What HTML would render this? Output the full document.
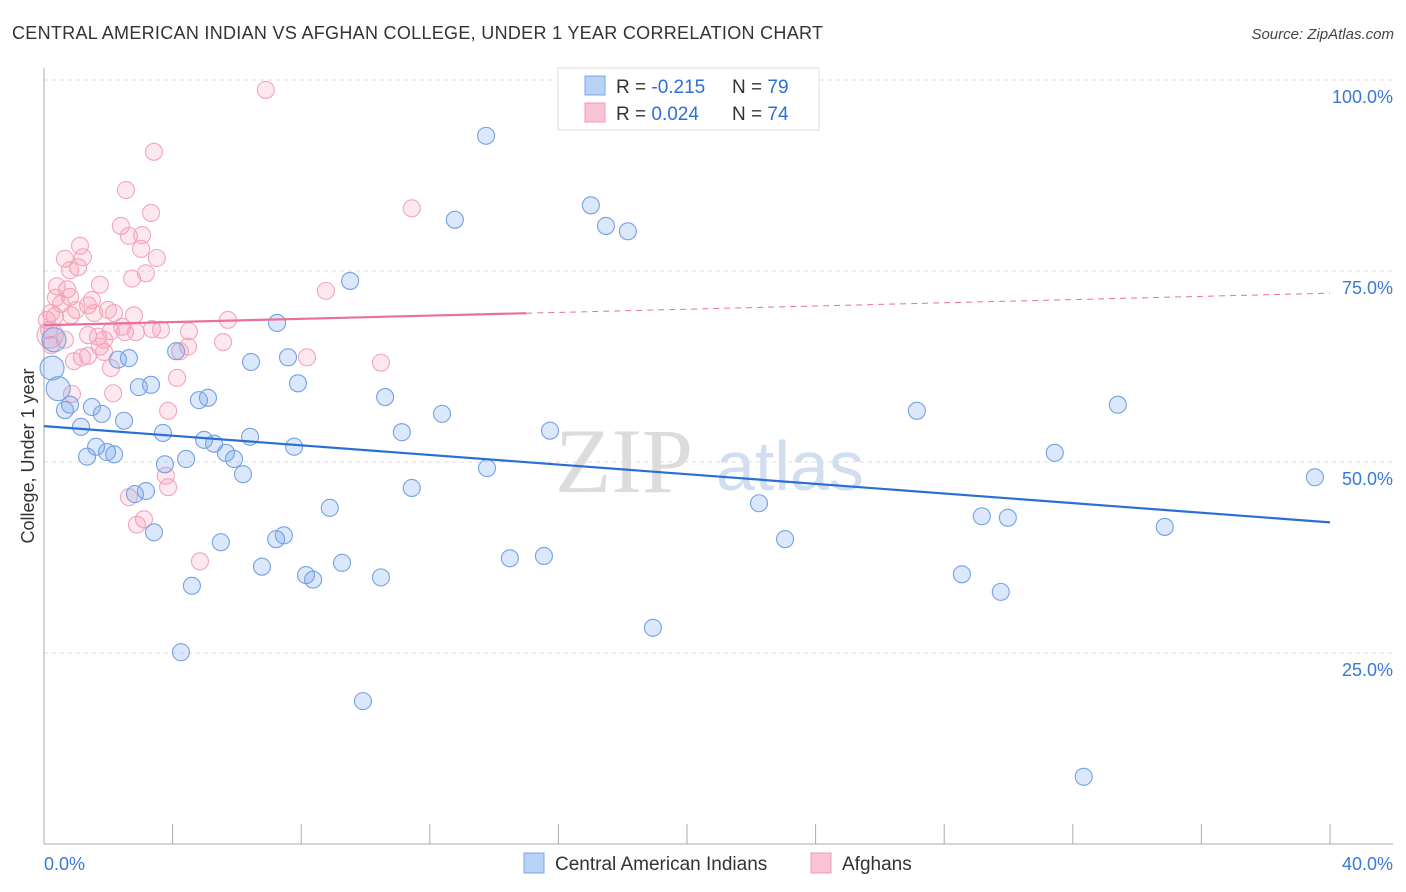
<!DOCTYPE html>
<html><head><meta charset="utf-8"><style>
body{margin:0;background:#fff;font-family:"Liberation Sans",sans-serif;}
#wrap{position:relative;width:1406px;height:892px;overflow:hidden;}
</style></head><body>
<div id="wrap">
<svg id="svg" width="1406" height="892" xmlns="http://www.w3.org/2000/svg">
<text x="12" y="39" font-size="18" fill="#333" textLength="811">CENTRAL AMERICAN INDIAN VS AFGHAN COLLEGE, UNDER 1 YEAR CORRELATION CHART</text>
<text x="1394" y="39" font-size="15" fill="#444" font-style="italic" text-anchor="end">Source: ZipAtlas.com</text>
<text x="34" y="456" font-size="18" fill="#333" text-anchor="middle" transform="rotate(-90 34 456)">College, Under 1 year</text>
<text x="555" y="492" font-size="92" fill="#dcdcdc" font-family="Liberation Serif,serif">ZIP</text>
<text x="716" y="490" font-size="70" fill="#d0def0">atlas</text>
<g id="grid"></g><g id="pts"></g><g id="lines"></g>
<g>
<rect x="558" y="68" width="261" height="62" fill="#fff" stroke="#ddd"/>
<rect x="585" y="76" width="20" height="19" fill="#b8d2f5" stroke="#7aa7e6"/>
<rect x="585" y="103" width="20" height="19" fill="#f9c4d4" stroke="#f09ab2"/>
<text x="616" y="93" font-size="19" fill="#333">R = <tspan fill="#2e6fd6">-0.215</tspan></text>
<text x="732" y="93" font-size="19" fill="#333">N = <tspan fill="#2e6fd6">79</tspan></text>
<text x="616" y="120" font-size="19" fill="#333">R = <tspan fill="#2e6fd6"> 0.024</tspan></text>
<text x="732" y="120" font-size="19" fill="#333">N = <tspan fill="#2e6fd6">74</tspan></text>
</g>
<g>
<rect x="524" y="853" width="20" height="20" fill="#b8d2f5" stroke="#7aa7e6"/>
<text x="555" y="870" font-size="19" fill="#333">Central American Indians</text>
<rect x="811" y="853" width="20" height="20" fill="#f9c4d4" stroke="#f09ab2"/>
<text x="842" y="870" font-size="19" fill="#333">Afghans</text>
</g>
</svg></div>
<script>
const xTicks=[0,40];
const yTicks=[25,50,75,100];
const blueX=[13.75,12.78,17.01,17.48,18.16,9.52,7.25,7.59,4.11,2.64,2.30,6.44,3.33,2.95,7.90,5.10,4.82,10.61,1.49,0.81,0.65,1.80,2.49,12.38,11.13,3.70,1.15,15.74,27.15,33.40,6.41,4.98,5.29,5.66,5.91,1.62,1.96,2.18,1.34,4.42,3.76,7.78,13.78,6.19,31.44,39.53,11.44,3.17,2.83,8.89,22.24,29.17,29.98,34.86,3.42,7.46,7.22,5.50,23.05,14.49,15.55,9.27,6.78,8.15,8.37,10.48,28.55,4.60,29.76,18.94,4.26,9.92,32.34];
const blueY=[92.7,81.7,83.6,80.9,80.2,73.7,68.2,63.7,64.5,63.6,63.4,63.1,60.1,59.8,60.3,58.4,58.1,58.5,57.2,57.5,56.8,56.3,55.4,56.3,53.9,53.8,54.6,54.1,56.7,57.5,53.3,52.9,52.4,51.2,50.4,52.0,51.3,51.0,50.7,50.4,49.7,52.0,49.2,48.4,51.2,48.0,46.6,46.2,45.8,44.0,44.6,42.9,42.7,41.5,40.8,40.4,39.9,39.5,39.9,37.4,37.7,36.8,36.3,35.2,34.6,34.9,35.3,33.8,33.0,28.3,25.1,18.7,8.8];
const blueBigX=[0.31,0.25,0.44];
const blueBigY=[66.0,62.3,59.6];
const pinkX=[6.90,3.42,2.55,3.33,11.44,2.39,2.64,3.05,1.12,0.65,1.21,3.02,3.51,1.06,3.17,2.74,8.77,0.72,1.74,0.37,0.81,0.53,1.49,1.37,1.99,1.00,1.56,0.84,0.22,0.34,2.80,2.18,5.72,2.43,3.36,4.51,2.08,2.52,2.86,3.64,1.37,1.68,1.87,0.65,0.22,5.57,4.48,1.74,1.87,8.18,1.18,1.37,0.93,2.08,10.48,4.14,2.15,0.87,3.86,0.09,3.79,3.86,3.11,2.89,2.64,4.85,4.23,0.16,0.81,0.40];
const pinkY=[98.7,90.6,85.6,82.6,83.2,80.9,79.6,79.7,78.3,76.6,76.8,77.9,76.7,75.5,74.7,74.0,72.4,72.6,73.2,71.5,71.6,70.7,71.2,70.5,69.9,69.9,69.5,69.2,69.5,69.1,69.2,69.5,68.6,67.7,67.4,67.1,67.1,67.0,67.0,67.3,66.6,66.4,66.0,66.0,65.3,65.7,65.1,65.1,64.4,63.7,63.7,63.9,63.2,62.3,63.0,61.0,59.0,58.9,56.7,68.6,48.2,46.7,42.5,41.8,45.4,37.0,64.5,67.3,75.1,73.0];
const pinkBigX=[0.19];
const pinkBigY=[66.6];
const blueTrend=[54.7,42.1];
const pinkTrend=[67.9,72.1];
const pinkSolidEnd=15.0;

const X=v=>44+v/40*1286, Y=v=>844-v/100*764;
const NS='http://www.w3.org/2000/svg';
function mk(t,a,p){const e=document.createElementNS(NS,t);for(const k in a)e.setAttribute(k,a[k]);p.appendChild(e);return e;}
const grid=document.getElementById('grid'),pts=document.getElementById('pts'),lines=document.getElementById('lines');
yTicks.forEach(v=>{
 const l=mk('line',{x1:44,x2:1393,y1:Y(v),y2:Y(v),stroke:'#ddd','stroke-dasharray':'4,4'},grid);
 
 
 const t=mk('text',{x:1393,y:Y(v)+23,'font-size':18,fill:'#3a78d8','text-anchor':'end'},grid);
 t.textContent=v.toFixed(1)+'%';
 
 
});
mk('line',{x1:44,x2:44,y1:68,y2:844,stroke:'#aaa'},grid);
mk('line',{x1:44,x2:1393,y1:844,y2:844,stroke:'#aaa'},grid);
for(let i=0;i<=10;i++){mk('line',{x1:X(i*4),x2:X(i*4),y1:824,y2:844,stroke:'#aaa'},grid);}
xTicks.forEach((v,i)=>{
 const t=mk('text',{x:i?1393:44,y:870,'font-size':18,fill:'#3a78d8','text-anchor':i?'end':'start'},grid);
 t.textContent=v.toFixed(1)+'%';
 
 
});
function dots(xs,ys,r,fill,stroke,name){xs.forEach((x,i)=>{
 const c=mk('circle',{cx:X(x),cy:Y(ys[i]),r:r,fill:fill,stroke:stroke,'stroke-width':1.1},pts);
 
 
});}
dots(pinkX,pinkY,8.5,'rgba(244,150,178,0.22)','#f2a6bd','afghan-point');
dots(pinkBigX,pinkBigY,13,'rgba(244,150,178,0.22)','#f2a6bd','afghan-point');
dots(blueX,blueY,8.5,'rgba(110,160,235,0.25)','#74a2e2','central-american-point');
dots(blueBigX,blueBigY,12,'rgba(110,160,235,0.25)','#74a2e2','central-american-point');
const bl=mk('line',{x1:X(0),y1:Y(blueTrend[0]),x2:X(40),y2:Y(blueTrend[1]),stroke:'#2a6fd6','stroke-width':2.2},lines);


const pm=pinkTrend[0]+(pinkTrend[1]-pinkTrend[0])*pinkSolidEnd/40;
const pl=mk('line',{x1:X(0),y1:Y(pinkTrend[0]),x2:X(pinkSolidEnd),y2:Y(pm),stroke:'#e8709a','stroke-width':2.2},lines);


const pd=mk('line',{x1:X(pinkSolidEnd),y1:Y(pm),x2:X(40),y2:Y(pinkTrend[1]),stroke:'#e8709a','stroke-width':1,'stroke-dasharray':'6,5'},lines);


</script>
</body></html>
